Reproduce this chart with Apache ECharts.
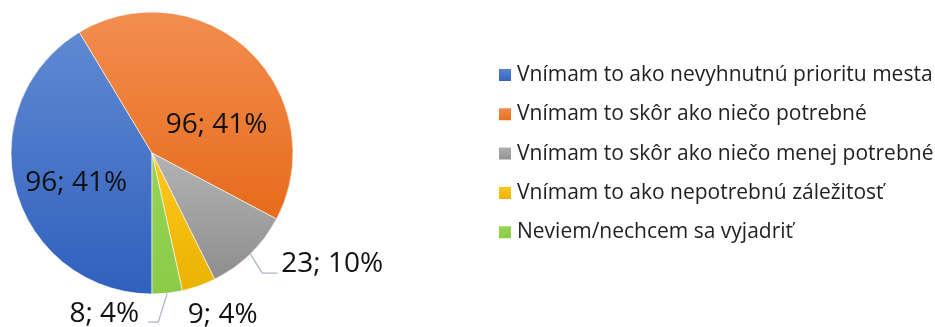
<!DOCTYPE html>
<html>
<head>
<meta charset="utf-8">
<script src="https://cdn.jsdelivr.net/npm/echarts@6/dist/echarts.min.js"></script>
<style>
  html, body { margin: 0; padding: 0; background: #fff; }
  #chart { width: 935px; height: 327px; }
</style>
</head>
<body>
<div id="chart"></div>
<script>
// Survey answers and their counts
const categories = [
  'Vnímam to ako nevyhnutnú prioritu mesta',
  'Vnímam to skôr ako niečo potrebné',
  'Vnímam to skôr ako niečo menej potrebné',
  'Vnímam to ako nepotrebnú záležitosť',
  'Neviem/nechcem sa vyjadriť'
];
const counts = [96, 96, 23, 9, 8];
const percentLabels = ['41%', '41%', '10%', '4%', '4%'];

// Top / bottom colours of each slice's vertical gradient
const topColors = ['#6089d2', '#f28e50', '#b3b3b3', '#ffc81e', '#97d457'];
const bottomColors = ['#2f60bd', '#e76b1a', '#8e8e8e', '#eab200', '#8ccb48'];

const FONT = '"Open Sans", "Liberation Sans", sans-serif';

const chart = echarts.init(document.getElementById('chart'));

const data = categories.map((name, i) => ({
  name,
  value: counts[i],
  pct: percentLabels[i],
  itemStyle: {
    color: new echarts.graphic.LinearGradient(0, 0, 0, 1, [
      { offset: 0, color: topColors[i] },
      { offset: 1, color: bottomColors[i] }
    ])
  },
  label: { position: i < 2 ? 'inside' : 'outside' },
  labelLine: { show: i === 2 || i === 4 }
}));

chart.setOption({
  animation: false,
  legend: {
    orient: 'vertical',
    left: 497,
    top: 64,
    padding: 0,
    itemWidth: 14,
    itemHeight: 14,
    itemGap: 17.3,
    icon: 'rect',
    textStyle: { fontFamily: FONT, fontSize: 21, color: '#1f1f1f', lineHeight: 22 },
    data: categories
  },
  series: [{
    type: 'pie',
    center: [152, 153],
    radius: 141,
    startAngle: -90,
    clockwise: true,
    avoidLabelOverlap: false,
    data,
    itemStyle: { borderColor: '#ffffff', borderWidth: 0.6 },
    label: {
      fontFamily: FONT,
      fontSize: 28,
      color: '#111',
      formatter: p => p.value + '; ' + p.data.pct
    },
    labelLine: {
      lineStyle: { color: '#a9b7ca', width: 1.3 }
    },
    labelLayout: function (params) {
      const i = params.dataIndex;
      const pts = params.labelLinePoints;
      if (i === 0) return { dx: -5, dy: 10 };
      if (i === 1) return { dx: 14, dy: 25 };
      if (!pts) return {};
      const s = pts[0];
      if (i === 2) {
        return {
          x: s[0] + 31, y: s[1] + 10, align: 'left', verticalAlign: 'middle',
          labelLinePoints: [s, [s[0] + 12, s[1] + 19], [s[0] + 27, s[1] + 19]]
        };
      }
      if (i === 3) {
        return { x: s[0] - 11, y: s[1] + 29, align: 'left', verticalAlign: 'middle' };
      }
      if (i === 4) {
        return {
          x: s[0] - 28, y: s[1] + 21, align: 'right', verticalAlign: 'middle',
          labelLinePoints: [s, [s[0] - 9, s[1] + 29], [s[0] - 19, s[1] + 29]]
        };
      }
      return {};
    }
  }]
});
</script>
</body>
</html>
